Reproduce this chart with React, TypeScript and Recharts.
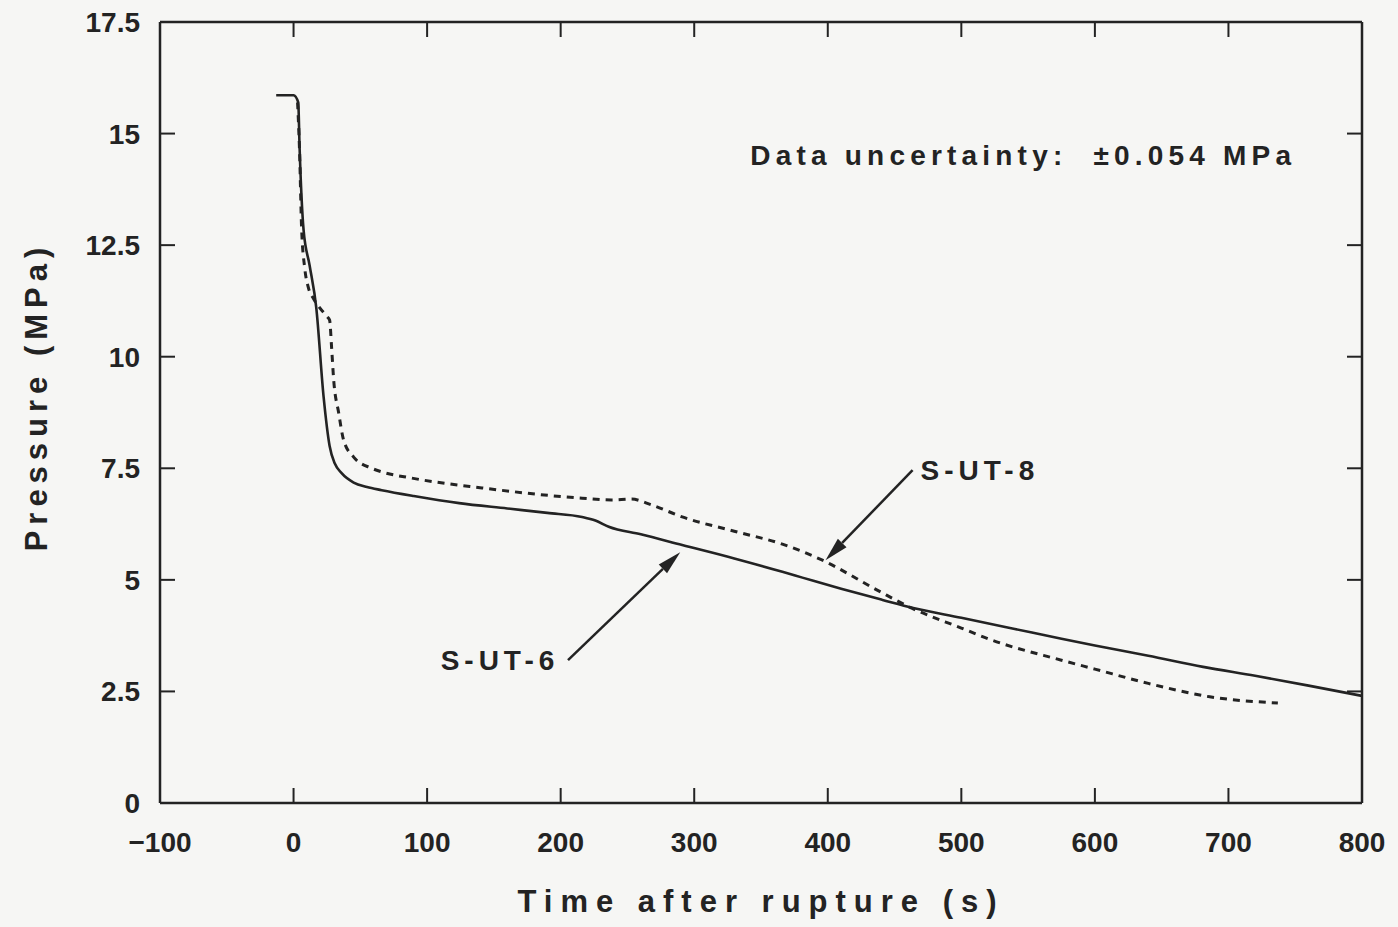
import React from 'react'
import { LineChart, Line, XAxis, YAxis, ReferenceLine, ReferenceDot } from 'recharts'

// S-UT-6 (solid) - time after rupture (s) / pressure (MPa)
const timeUT6 = [-13, 0, 3.5, 4.5, 7.5, 12, 17, 22.5, 27, 31, 36, 45, 55, 66, 90, 124, 160, 190, 216, 226, 236, 260, 291, 330, 366, 381, 410, 441, 464, 500, 540, 575, 600, 640, 681, 720, 760, 800]
const pressUT6 = [15.86, 15.86, 15.7, 14.7, 12.84, 12.05, 11.1, 9.1, 8.0, 7.6, 7.39, 7.18, 7.08, 7.01, 6.88, 6.72, 6.6, 6.5, 6.41, 6.33, 6.19, 6.02, 5.78, 5.48, 5.18, 5.05, 4.8, 4.55, 4.37, 4.15, 3.9, 3.68, 3.53, 3.3, 3.05, 2.85, 2.63, 2.4]

// S-UT-8 (dashed)
const timeUT8 = [3, 4.5, 6, 8.3, 11, 15, 19.5, 25, 27, 28.5, 30, 33.8, 37.5, 45, 58.5, 66, 88.5, 141, 216, 238, 253, 268, 291, 330, 366, 396, 437, 464, 500, 520, 575, 600, 640, 686, 737]
const pressUT8 = [15.7, 14.6, 12.9, 12.0, 11.56, 11.3, 11.1, 10.9, 10.82, 10.2, 9.5, 8.74, 8.13, 7.75, 7.5, 7.42, 7.28, 7.06, 6.83, 6.79, 6.81, 6.68, 6.41, 6.09, 5.8, 5.44, 4.77, 4.35, 3.92, 3.68, 3.2, 3.0, 2.68, 2.38, 2.24]

const xTicks = [-100, 0, 100, 200, 300, 400, 500, 600, 700, 800]
const yTicks = [0, 2.5, 5, 7.5, 10, 12.5, 15, 17.5]

const ut6 = timeUT6.map((t, i) => ({ t, p: pressUT6[i] }))
const ut8 = timeUT8.map((t, i) => ({ t, p: pressUT8[i] }))

const INK = '#232323'
const FONT = '"Liberation Sans", Arial, sans-serif'

const fmtX = (v: number) => (v < 0 ? `\u2212${-v}` : `${v}`)

// arrow drawn from the segment ends the library gives us
function Arrow(props: any) {
  const { x1, y1, x2, y2 } = props
  const dx = x2 - x1
  const dy = y2 - y1
  const len = Math.hypot(dx, dy) || 1
  const ux = dx / len
  const uy = dy / len
  const hl = 24
  const hw = 6
  const bx = x2 - ux * hl
  const by = y2 - uy * hl
  return (
    <g>
      <line x1={x1} y1={y1} x2={bx} y2={by} stroke={INK} strokeWidth={2.5} />
      <polygon
        points={`${x2},${y2} ${bx - uy * hw},${by + ux * hw} ${bx + uy * hw},${by - ux * hw}`}
        fill={INK}
      />
    </g>
  )
}

const note = (text: string, anchor: 'start' | 'end', spacing: number) =>
  (p: any) => (
    <text
      x={p.cx}
      y={p.cy}
      dy="0.36em"
      textAnchor={anchor}
      fontFamily={FONT}
      fontWeight="bold"
      fontSize={28}
      letterSpacing={spacing}
      fill={INK}
      style={{ whiteSpace: 'pre' }}
    >
      {text}
    </text>
  )

const tickStyle = { fontSize: 28, fill: INK, fontFamily: FONT, fontWeight: 'bold' as const }
// top / right axes only carry the inner tick marks
const noLabel = () => <g />

export default function App() {
  return (
    <div style={{ position: 'absolute', left: 0, top: 0, width: 1398, height: 927, background: '#f6f6f4' }}>
      <LineChart width={1398} height={927} margin={{ top: 20, right: 34, bottom: 4, left: 0 }}>
        <XAxis
          dataKey="t"
          type="number"
          domain={[-100, 800]}
          ticks={xTicks}
          tickFormatter={fmtX}
          allowDataOverflow
          height={120}
          tick={tickStyle}
          tickSize={-15}
          tickMargin={44}
          axisLine={{ stroke: INK, strokeWidth: 2.5 }}
          tickLine={{ stroke: INK, strokeWidth: 2 }}
          label={{
            value: 'Time after rupture (s)',
            position: 'insideBottom',
            offset: 11,
            style: { fontSize: 31, fill: INK, fontFamily: FONT, fontWeight: 'bold', letterSpacing: 8 },
          }}
        />
        <XAxis
          xAxisId="top"
          dataKey="t"
          orientation="top"
          type="number"
          domain={[-100, 800]}
          ticks={xTicks}
          allowDataOverflow
          interval={0}
          height={2}
          tick={noLabel}
          tickSize={-15}
          axisLine={{ stroke: INK, strokeWidth: 2.5 }}
          tickLine={{ stroke: INK, strokeWidth: 2 }}
        />
        <YAxis
          type="number"
          domain={[0, 17.5]}
          ticks={yTicks}
          allowDataOverflow
          width={160}
          tick={tickStyle}
          tickSize={-15}
          tickMargin={35}
          axisLine={{ stroke: INK, strokeWidth: 2.5 }}
          tickLine={{ stroke: INK, strokeWidth: 2 }}
          label={{
            content: (p: any) => {
              const vb = p.viewBox || { x: 0, y: 22, width: 160, height: 781 }
              const cx = vb.x + 36
              const cy = vb.y + vb.height / 2 - 16
              return (
                <text
                  x={cx}
                  y={cy}
                  dy="0.36em"
                  transform={`rotate(-90, ${cx}, ${cy})`}
                  textAnchor="middle"
                  fontFamily={FONT}
                  fontWeight="bold"
                  fontSize={31}
                  letterSpacing={6}
                  fill={INK}
                >
                  Pressure (MPa)
                </text>
              )
            },
          }}
        />
        <YAxis
          yAxisId="right"
          orientation="right"
          type="number"
          domain={[0, 17.5]}
          ticks={yTicks}
          allowDataOverflow
          interval={0}
          width={2}
          tick={noLabel}
          tickSize={-15}
          axisLine={{ stroke: INK, strokeWidth: 2.5 }}
          tickLine={{ stroke: INK, strokeWidth: 2 }}
        />
        <Line
          data={ut6}
          dataKey="p"
          type="monotone"
          stroke={INK}
          strokeWidth={2.6}
          dot={false}
          isAnimationActive={false}
        />
        <Line
          data={ut8}
          dataKey="p"
          xAxisId="top"
          yAxisId="right"
          type="monotone"
          stroke={INK}
          strokeWidth={3}
          strokeDasharray="7 6"
          dot={false}
          isAnimationActive={false}
        />
        <ReferenceLine segment={[{ x: 463.5, y: 7.46 }, { x: 398.3, y: 5.44 }]} shape={Arrow} />
        <ReferenceLine segment={[{ x: 205.5, y: 3.2 }, { x: 289.5, y: 5.62 }]} shape={Arrow} />
        <ReferenceDot x={342} y={14.52} r={0} shape={note('Data uncertainty:  \u00b10.054 MPa', 'start', 5.2)} />
        <ReferenceDot x={469.5} y={7.46} r={0} shape={note('S-UT-8', 'start', 5)} />
        <ReferenceDot x={199} y={3.2} r={0} shape={note('S-UT-6', 'end', 5)} />
      </LineChart>
    </div>
  )
}
